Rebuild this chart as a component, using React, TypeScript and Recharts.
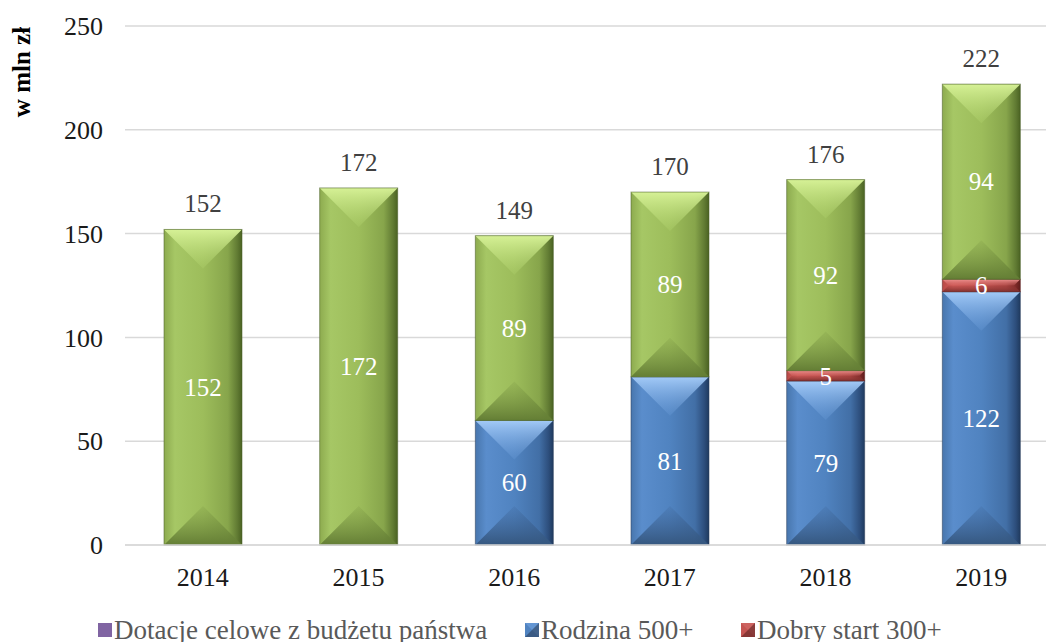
import { BarChart, Bar, XAxis, YAxis, CartesianGrid, Legend, LabelList } from 'recharts';

const FONT = '"Liberation Serif", "Times New Roman", serif';

const YEARS = ['2014', '2015', '2016', '2017', '2018', '2019'];
const DOTACJE = [0, 0, 0, 0, 0, 0];
const RODZINA = [0, 0, 60, 81, 79, 122];
const DOBRY_START = [0, 0, 0, 0, 5, 6];
const WLASNE = [152, 172, 89, 89, 92, 94];
const TOTALS = [152, 172, 149, 170, 176, 222];
const Y_TICKS = [0, 50, 100, 150, 200, 250];
const LEGEND_ORDER = ['dotacje', 'rodzina', 'dobry'];
const LEGEND_WIDTHS = [427, 216, 300];

const data = YEARS.map((year, i) => ({
  year,
  dotacje: DOTACJE[i],
  rodzina: RODZINA[i],
  dobry: DOBRY_START[i],
  wlasne: WLASNE[i],
  total: TOTALS[i],
}));

// body / top / bottom shades for the bevelled bars
const TONES: Record<string, { body: string[]; top: string[]; bot: string[]; edge: string }> = {
  green: {
    body: ['#8dab4f', '#a6c765', '#9dbd5b', '#87a54b', '#617b33', '#4a6222'],
    top: ['#d6f196', '#b3d56f'],
    bot: ['#7b9744', '#647e35'],
    edge: '#4b5e2a',
  },
  blue: {
    body: ['#4876ad', '#5a8dcc', '#5083c0', '#426fa6', '#2d4e7c', '#1f3a5e'],
    top: ['#a3caf7', '#6c9edb'],
    bot: ['#3f6699', '#35577f'],
    edge: '#2b3f5c',
  },
  red: {
    body: ['#b84a47', '#d35c59', '#c45451', '#a94441', '#7e2a28', '#5e1c1b'],
    top: ['#ee9290', '#d06a67'],
    bot: ['#9a3c3a', '#7f302e'],
    edge: '#5e2322',
  },
  purple: {
    body: ['#8064a2', '#8064a2', '#8064a2', '#8064a2', '#8064a2', '#8064a2'],
    top: ['#8064a2', '#8064a2'],
    bot: ['#8064a2', '#8064a2'],
    edge: '#8064a2',
  },
};

const TONE_OF: Record<string, string> = { dotacje: 'purple', rodzina: 'blue', dobry: 'red', wlasne: 'green' };
const BODY_STOPS = ['0%', '14%', '50%', '82%', '94%', '100%'];

function Bevel(props: any) {
  const { x, y, width: w, height: h, tone } = props;
  if (!h || h <= 0 || !w) return null;
  const d = Math.min(w / 2, h / 2);
  const t = TONES[tone];
  return (
    <g>
      <rect x={x} y={y} width={w} height={h} fill={`url(#${tone}-body)`} />
      <polygon points={`${x},${y} ${x + w},${y} ${x + w - d},${y + d} ${x + d},${y + d}`} fill={`url(#${tone}-top)`} />
      <polygon points={`${x},${y + h} ${x + w},${y + h} ${x + w - d},${y + h - d} ${x + d},${y + h - d}`} fill={`url(#${tone}-bot)`} />
      <rect x={x} y={y} width={w} height={h} fill="none" stroke={t.edge} strokeOpacity={0.55} strokeWidth={1} />
    </g>
  );
}

const innerLabel = (p: any) => {
  const { x, y, width, height, value } = p;
  if (!value) return null;
  return (
    <text x={x + width / 2} y={y + height / 2} dy="0.35em" textAnchor="middle" fill="#ffffff" fontSize={25} fontFamily={FONT}>
      {value}
    </text>
  );
};

const totalLabel = (p: any) => {
  const { x, y, width, value } = p;
  return (
    <text x={x + width / 2} y={y - 17} textAnchor="middle" fill="#404040" fontSize={25} fontFamily={FONT}>
      {value}
    </text>
  );
};

const legendContent = (props: any) => {
  const items = (props.payload ?? [])
    .filter((e: any) => e.type !== 'none' && LEGEND_ORDER.includes(e.dataKey))
    .sort((a: any, b: any) => LEGEND_ORDER.indexOf(a.dataKey) - LEGEND_ORDER.indexOf(b.dataKey));
  return (
    <div style={{ display: 'flex', fontFamily: FONT, fontSize: 27, lineHeight: '26px', color: '#595959', whiteSpace: 'nowrap' }}>
      {items.map((e: any, i: number) => {
        const tone = TONE_OF[e.dataKey] ?? 'purple';
        return (
          <div key={i} style={{ display: 'flex', alignItems: 'flex-start', width: LEGEND_WIDTHS[i], flex: 'none' }}>
            <svg width={14} height={14} style={{ marginTop: 6, marginRight: 2 }}>
              <rect x={0} y={0} width={14} height={14} fill={TONES[tone].body[2]} />
              {tone !== 'purple' && <polygon points="0,0 14,0 14,14" fill={TONES[tone].top[1]} opacity={0.7} />}
              {tone !== 'purple' && <polygon points="14,0 14,14 0,14" fill={TONES[tone].edge} opacity={0.6} />}
            </svg>
            <span>{e.value}</span>
          </div>
        );
      })}
    </div>
  );
};

export default function App() {
  return (
    <div style={{ position: 'fixed', left: 0, top: 0, width: 1046, height: 642, overflow: 'hidden', background: '#fff' }}>
      <BarChart width={1070} height={660} data={data} margin={{ top: 26, right: 11, left: 0, bottom: 75 }} barSize={78}>
        <defs>
          {Object.keys(TONES).map((k) => (
            <g key={k}>
              <linearGradient id={`${k}-body`} x1="0" y1="0" x2="1" y2="0">
                {TONES[k].body.map((c, i) => (
                  <stop key={i} offset={BODY_STOPS[i]} stopColor={c} />
                ))}
              </linearGradient>
              <linearGradient id={`${k}-top`} x1="0" y1="0" x2="0" y2="1">
                <stop offset="0%" stopColor={TONES[k].top[0]} stopOpacity={1} />
                <stop offset="100%" stopColor={TONES[k].top[1]} stopOpacity={0.25} />
              </linearGradient>
              <linearGradient id={`${k}-bot`} x1="0" y1="0" x2="0" y2="1">
                <stop offset="0%" stopColor={TONES[k].bot[0]} stopOpacity={0.2} />
                <stop offset="100%" stopColor={TONES[k].bot[1]} stopOpacity={1} />
              </linearGradient>
            </g>
          ))}
        </defs>
        <CartesianGrid vertical={false} stroke="#d9d9d9" strokeWidth={1.5} />
        <XAxis
          dataKey="year"
          height={40}
          tickLine={false}
          tickSize={0}
          tickMargin={23}
          axisLine={{ stroke: '#d9d9d9', strokeWidth: 1.5 }}
          tick={{ fontSize: 26, fontFamily: FONT, fill: '#1a1a1a' }}
        />
        <YAxis
          width={125}
          domain={[0, 250]}
          ticks={Y_TICKS}
          axisLine={false}
          tickLine={false}
          tickSize={0}
          tickMargin={22}
          tick={{ fontSize: 26, fontFamily: FONT, fill: '#1a1a1a' }}
          label={{
            content: (p: any) => {
              const vb = p.viewBox ?? { x: 0, y: 26 };
              return (
                <text
                  x={vb.x + 21}
                  y={vb.y + 46}
                  transform={`rotate(-90, ${vb.x + 21}, ${vb.y + 46})`}
                  textAnchor="middle"
                  dy="0.35em"
                  fontSize={25}
                  fontWeight="bold"
                  fontFamily={FONT}
                  fill="#000"
                >
                  w mln zł
                </text>
              );
            },
          }}
        />
        <Legend
          layout="horizontal"
          align="center"
          verticalAlign="middle"
          content={legendContent}
          wrapperStyle={{ top: 617, left: 98, width: 950, height: 30 }}
        />
        <Bar dataKey="dotacje" name="Dotacje celowe z budżetu państwa" stackId="a" fill="#8064a2" isAnimationActive={false} shape={(p: any) => <Bevel {...p} tone="purple" />} />
        <Bar dataKey="rodzina" name="Rodzina 500+" stackId="a" fill="#4f81bd" isAnimationActive={false} shape={(p: any) => <Bevel {...p} tone="blue" />}>
          <LabelList dataKey="rodzina" content={innerLabel} />
        </Bar>
        <Bar dataKey="dobry" name="Dobry start 300+" stackId="a" fill="#c0504d" isAnimationActive={false} shape={(p: any) => <Bevel {...p} tone="red" />}>
          <LabelList dataKey="dobry" content={innerLabel} />
        </Bar>
        <Bar dataKey="wlasne" name="Środki własne" stackId="a" fill="#9bbb59" legendType="none" isAnimationActive={false} shape={(p: any) => <Bevel {...p} tone="green" />}>
          <LabelList dataKey="wlasne" content={innerLabel} />
          <LabelList dataKey="total" content={totalLabel} />
        </Bar>
      </BarChart>
    </div>
  );
}
